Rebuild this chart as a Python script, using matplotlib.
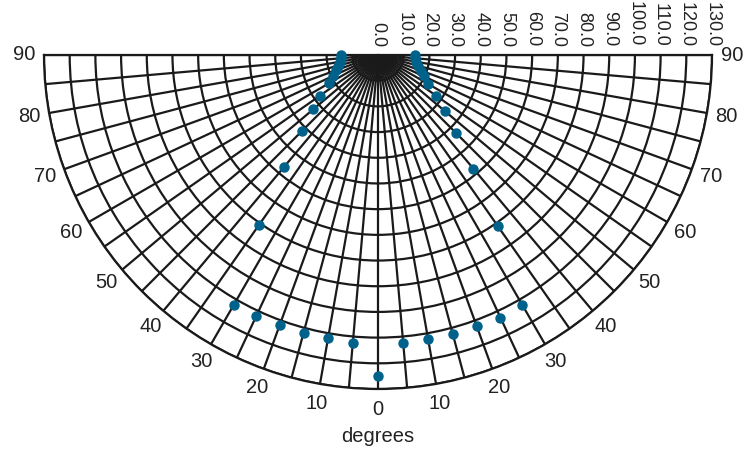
import numpy as np
import matplotlib.pyplot as plt

plt.rcParams['font.family'] = ['Liberation Sans', 'DejaVu Sans']

# measurement angles (degrees, 0 = straight down) and radial values
angles = [-90, -85, -80, -75, -70, -65, -60, -55, -50, -45, -40, -35, -30,
          -25, -20, -15, -10, -5, 0, 5, 10, 15, 20, 25, 30, 35, 40, 45,
          50, 55, 60, 65, 70, 75, 80, 85, 90]
values = [14.3, 14.5, 15.0, 16.0, 17.5, 19.5, 22.0, 27.5, 33.0, 42.0, 57.0,
          81.0, 112.3, 112.3, 112.0, 112.0, 112.0, 112.5, 125.0, 112.5, 112.2,
          112.5, 112.3, 112.8, 112.4, 81.3, 57.7, 43.0, 34.0, 27.7, 22.5,
          19.8, 17.8, 16.2, 15.2, 14.6, 14.4]

r_ticks = np.arange(0, 131, 10)
theta_ticks = np.arange(-90, 91, 5)

fig = plt.figure(figsize=(7.54, 4.51), dpi=100)
# half-circle centre at (378, 55) px, radius ~334 px
ax = fig.add_axes([-290 / 754, -105 / 451, 1336 / 754, 668 / 451],
                  projection='polar')
ax.set_theta_zero_location('S')
ax.set_thetamin(-90)
ax.set_thetamax(90)
ax.set_ylim(0, 130)

ax.set_thetagrids(theta_ticks,
                  [str(abs(t)) if t % 10 == 0 else '' for t in theta_ticks],
                  fontsize=14.5, color='#222222')
ax.tick_params(axis='x', pad=4)
ax.set_rgrids(r_ticks[1:], labels=[''] * (len(r_ticks) - 1))
ax.grid(True, color='#1a1a1a', lw=1.6)
for s in ax.spines.values():
    s.set_color('#1a1a1a')
    s.set_linewidth(1.6)

# radial labels along the top edge
for r in r_ticks:
    ax.annotate(f'{r:.1f}', xy=(np.deg2rad(90), r), xytext=(0, 6),
                textcoords='offset points', rotation=270, ha='center',
                va='bottom', fontsize=13, color='#222222',
                annotation_clip=False)

ax.plot(np.deg2rad(angles), values, 'o', color='#00628b', ms=6.5,
        clip_on=False, zorder=5)

fig.text(378 / 754, 1 - 437 / 451, 'degrees', ha='center', va='center',
         fontsize=14.5, color='#222222')

fig.savefig('out.png', dpi=100)
